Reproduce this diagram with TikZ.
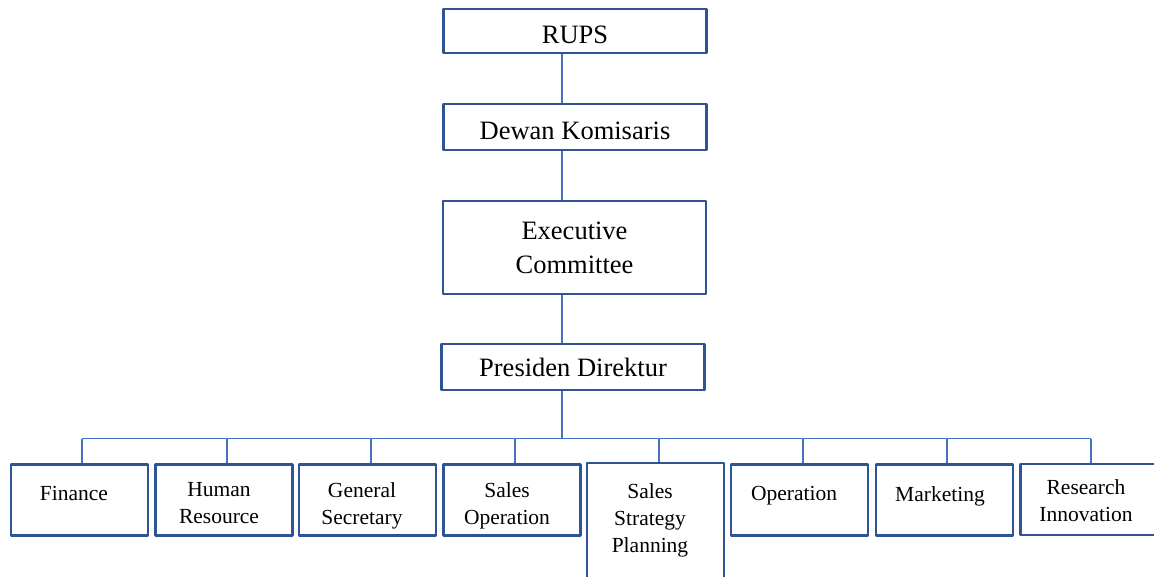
\documentclass[tikz,border=0pt]{standalone}
\usepackage{fontspec}
\setmainfont{Liberation Serif}
\definecolor{boxblue}{HTML}{2F5496}
\definecolor{lineblue}{HTML}{4472C4}
\begin{document}
\begin{tikzpicture}[x=1pt,y=-1pt,line join=round,
	head/.style={draw=boxblue,line width=2.8pt,minimum width=263pt,inner sep=0pt,
		font=\fontsize{26.5}{34}\selectfont},
	unit/.style={draw=boxblue,line width=2.8pt,minimum width=137pt,minimum height=71pt,inner sep=0pt},
	lbl/.style={anchor=north,align=center,inner sep=0pt,font=\fontsize{21.5}{27}\selectfont},
	link/.style={draw=lineblue,line width=1.3pt}]
	\useasboundingbox (0,0) rectangle (1154,577);
	
	% top of the chart
	\node[head,minimum height=44pt,text height=25.6pt,text depth=0pt] (rups) at (575,31) {RUPS};
	\node[head,minimum height=46pt,text height=24.6pt,text depth=0pt] (dk) at (575,127) {Dewan Komisaris};
	\node[head,minimum height=93pt,align=center] (ec) at (574.5,247.5) {Executive\\Committee};
	\node[head,minimum height=46pt] (pd) at (573,367) {Presiden Direktur};
	
	\coordinate (spine) at (562,0);
	\draw[link] (rups.south -| spine) -- (dk.north -| spine);
	\draw[link] (dk.south -| spine) -- (ec.north -| spine);
	\draw[link] (ec.south -| spine) -- (pd.north -| spine);
	
	% divisions
	\foreach \x/\y/\tx/\ty/\nm/\txt in {79.5/500/74/486/fin/Finance,
		224/500/219/482/hr/{Human\\Resource},
		367.5/500/362/482/gs/{General\\Secretary},
		512/500/507/482/so/{Sales\\Operation},
		799.5/500/794/486/op/Operation,
		944.5/500/940/486/mk/Marketing,
		1089/499.5/1086/479/ri/{Research\\Innovation}}{
		\node[unit] (\nm) at (\x,\y) {};
		\node[lbl] (\nm-t) at (\tx,\ty) {\txt};
	}
	\node[unit,minimum height=134pt] (ssp) at (655.5,530) {};
	\node[lbl] (ssp-t) at (650,483) {Sales\\Strategy\\Planning};
	
	% bus
	\foreach \x/\nm in {82/fin,227/hr,371/gs,515/so,659/ssp,803/op,947/mk,1091/ri}{
		\coordinate (bus-\nm) at (\x,438.5);
		\draw[link] (bus-\nm) -- (bus-\nm |- \nm.north);
	}
	\draw[link] (bus-fin) -- (bus-ri);
	\draw[link] (pd.south -| spine) -- (spine |- bus-fin);
\end{tikzpicture}
\end{document}
